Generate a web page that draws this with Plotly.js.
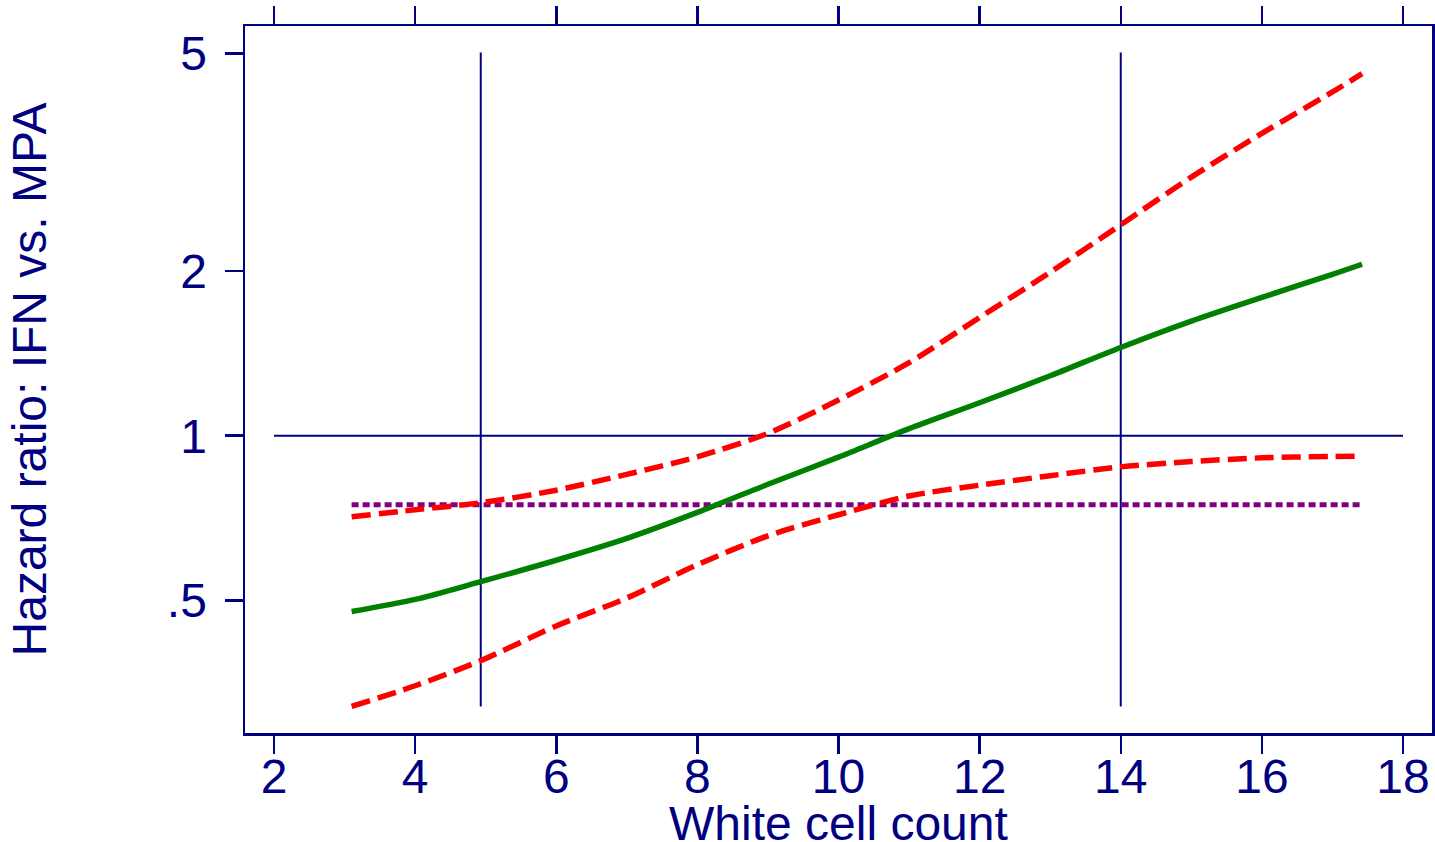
<!DOCTYPE html>
<html>
<head>
<meta charset="utf-8">
<script src="https://cdn.plot.ly/plotly-3.0.1.min.js"></script>
<style>html,body{margin:0;padding:0;background:#fff;}#chart{width:1435px;height:842px;}</style>
</head>
<body>
<div id="chart"></div>
<script>
// White cell count grid for the estimated curves
const wcc = [3.1, 4, 4.93, 6, 7, 8, 9, 10, 11, 12, 13, 14, 15, 16, 17, 17.42];
// Hazard ratio estimate (IFN vs. MPA)
const hrEstimate = [0.477, 0.502, 0.541, 0.592, 0.649, 0.724, 0.815, 0.914, 1.03, 1.149, 1.287, 1.45, 1.62, 1.79, 1.972, 2.058];
// 95% confidence limits
const hrUpper = [0.711, 0.732, 0.754, 0.795, 0.85, 0.915, 1.01, 1.162, 1.36, 1.645, 1.99, 2.43, 2.97, 3.57, 4.25, 4.59];
const hrLower = [0.32, 0.349, 0.388, 0.449, 0.505, 0.581, 0.656, 0.717, 0.776, 0.812, 0.845, 0.877, 0.897, 0.911, 0.916, 0.917];
// Overall (constant) hazard ratio
const overallX = [3.1, 17.42];
const overallHR = [0.748, 0.748];
// Reference lines
const refHX = [2, 18];
const refHY = [1, 1];
const refV1X = [4.93, 4.93];
const refV2X = [14, 14];
const refVY = [0.32, 5.02];
// Axis ticks
const xTicks = [2, 4, 6, 8, 10, 12, 14, 16, 18];
const yTickVals = [0.5, 1, 2, 5];
const yTickText = ['.5', '1', '2', '5'];
const xTitle = 'White cell count';
const yTitle = 'Hazard ratio: IFN vs. MPA';

const navy = '#000080';
const font = 'Liberation Sans, Arial, sans-serif';

const traces = [
  {x: refHX, y: refHY, mode: 'lines', line: {color: navy, width: 2}, hoverinfo: 'skip'},
  {x: refV1X, y: refVY, mode: 'lines', line: {color: navy, width: 2}, hoverinfo: 'skip'},
  {x: refV2X, y: refVY, mode: 'lines', line: {color: navy, width: 2}, hoverinfo: 'skip'},
  {x: overallX, y: overallHR, mode: 'lines', line: {color: '#800080', width: 5, dash: '7px,4px'}},
  {x: wcc, y: hrUpper, mode: 'lines', line: {color: '#ff0000', width: 5.5, dash: '19px,8px', shape: 'spline', smoothing: 0.8}},
  {x: wcc, y: hrLower, mode: 'lines', line: {color: '#ff0000', width: 5.5, dash: '19px,8px', shape: 'spline', smoothing: 0.8}},
  {x: wcc, y: hrEstimate, mode: 'lines', line: {color: '#008000', width: 5.5, shape: 'spline', smoothing: 0.8}}
];

const axisCommon = {
  showline: true, linecolor: navy, linewidth: 2.5, mirror: 'ticks',
  ticks: 'outside', ticklen: 18, tickwidth: 2.5, tickcolor: navy,
  showgrid: false, zeroline: false,
  tickfont: {family: font, size: 48, color: navy}
};

const layout = {
  width: 1435, height: 842,
  margin: {l: 245, r: 3, t: 26, b: 109, pad: 0},
  paper_bgcolor: '#ffffff', plot_bgcolor: '#ffffff',
  showlegend: false,
  xaxis: Object.assign({}, axisCommon, {
    range: [1.589, 18.411], tickvals: xTicks, ticktext: xTicks.map(String),
    ticklabelstandoff: -18
  }),
  yaxis: Object.assign({}, axisCommon, {
    type: 'log', range: [-0.5435, 0.749], tickvals: yTickVals, ticktext: yTickText,
    ticklabelstandoff: 8,
    title: {text: yTitle, font: {family: font, size: 48, color: navy}, standoff: 105}
  }),
  annotations: [{
    text: xTitle, xref: 'paper', yref: 'paper', x: 0.4996, y: 0,
    xanchor: 'center', yanchor: 'top', yshift: -62, showarrow: false,
    font: {family: font, size: 48, color: navy}
  }]
};

Plotly.newPlot('chart', traces, layout, {staticPlot: true, displayModeBar: false});
</script>
</body>
</html>
